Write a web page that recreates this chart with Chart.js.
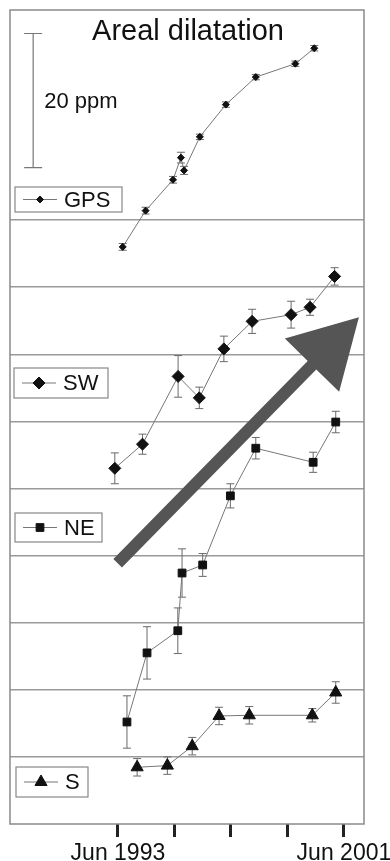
<!DOCTYPE html>
<html>
<head>
<meta charset="utf-8">
<script src="https://cdn.jsdelivr.net/npm/chart.js@4.4.0/dist/chart.umd.min.js"></script>
<style>
  html, body { margin: 0; padding: 0; background: #fff; }
  #wrap { width: 390px; height: 861px; }
</style>
</head>
<body>
<div id="wrap"><canvas id="dilChart"></canvas></div>
<script>
// decimal years / ppm (each series shifted vertically, as in the figure)
const gpsYears = [1993.67, 1994.48, 1995.45, 1995.73, 1995.84, 1996.40, 1997.32, 1998.38, 1999.78, 2000.45];
const gpsValues = [86.0, 91.4, 96.0, 99.3, 97.4, 102.4, 107.2, 111.3, 113.3, 115.6];
const gpsErrors = [0.5, 0.5, 0.5, 0.8, 0.6, 0.4, 0.4, 0.4, 0.4, 0.4];

const swYears = [1993.39, 1994.37, 1995.63, 1996.38, 1997.25, 1998.25, 1999.63, 2000.30, 2001.17];
const swValues = [53.0, 56.6, 66.7, 63.5, 70.8, 74.9, 75.9, 77.0, 81.6];
const swErrors = [2.3, 1.5, 3.1, 1.6, 1.9, 1.8, 2.0, 1.2, 1.3];

const neYears = [1993.82, 1994.53, 1995.62, 1995.77, 1996.50, 1997.48, 1998.38, 2000.41, 2001.21];
const neValues = [15.2, 25.5, 28.8, 37.4, 38.6, 48.9, 56.0, 53.9, 59.9];
const neErrors = [3.9, 3.9, 3.4, 3.6, 1.7, 1.8, 1.6, 1.5, 1.6];

const sYears = [1994.18, 1995.25, 1996.13, 1997.08, 1998.15, 2000.38, 2001.21];
const sValues = [8.45, 8.7, 11.6, 16.1, 16.2, 16.2, 19.6];
const sErrors = [1.3, 1.3, 1.3, 1.3, 1.3, 1.0, 1.6];

const tickYears = [1993.5, 1995.5, 1997.5, 1999.5, 2001.5];
const tickLabels = ['Jun 1993', '', '', '', 'Jun 2001'];

const xMin = 1989.68, xMax = 2002.21;
const yMin = 0, yMax = 121.3;

// 20 ppm scale bar and trend arrow, in data units
const scaleBar = { year: 1990.5, from: 97.8, to: 117.8, label: '20 ppm' };
const trendArrow = { fromYear: 1993.49, fromValue: 38.85, toYear: 2002.03, toValue: 75.5 };

const FONT = "'Liberation Sans', Arial, sans-serif";

function pts(xs, ys) {
  return xs.map((x, i) => ({ x: x, y: ys[i] }));
}

const seriesInfo = [
  { label: 'GPS', years: gpsYears, values: gpsValues, errors: gpsErrors, style: 'rectRot', radius: 3.5 },
  { label: 'SW', years: swYears, values: swValues, errors: swErrors, style: 'rectRot', radius: 6 },
  { label: 'NE', years: neYears, values: neValues, errors: neErrors, style: 'rect', radius: 5.5 },
  { label: 'S', years: sYears, values: sValues, errors: sErrors, style: 'triangle', radius: 7 }
];

// legend boxes (pixels from chart area corner)
const legendBoxes = [
  { x: 5, y: 177, w: 107, h: 25 },
  { x: 4, y: 358, w: 94, h: 30 },
  { x: 5, y: 503, w: 87, h: 29 },
  { x: 6, y: 757, w: 72, h: 30 }
];

const errorBars = {
  id: 'errorBars',
  beforeDatasetsDraw(chart) {
    const ctx = chart.ctx;
    const x = chart.scales.x, y = chart.scales.y;
    ctx.save();
    ctx.strokeStyle = '#6a6a6a';
    ctx.lineWidth = 1;
    seriesInfo.forEach(s => {
      s.years.forEach((yr, i) => {
        const px = x.getPixelForValue(yr);
        const top = y.getPixelForValue(s.values[i] + s.errors[i]);
        const bot = y.getPixelForValue(s.values[i] - s.errors[i]);
        ctx.beginPath();
        ctx.moveTo(px, top); ctx.lineTo(px, bot);
        ctx.moveTo(px - 4, top); ctx.lineTo(px + 4, top);
        ctx.moveTo(px - 4, bot); ctx.lineTo(px + 4, bot);
        ctx.stroke();
      });
    });
    ctx.restore();
  }
};

const decorations = {
  id: 'decorations',
  beforeDatasetsDraw(chart) {
    const ctx = chart.ctx, a = chart.chartArea;
    const x = chart.scales.x, y = chart.scales.y;
    ctx.save();
    // frame
    ctx.strokeStyle = '#8a8a8a';
    ctx.lineWidth = 1.5;
    ctx.strokeRect(a.left, a.top, a.right - a.left, a.bottom - a.top);

    // title
    ctx.fillStyle = '#111';
    ctx.font = '29px ' + FONT;
    ctx.textAlign = 'center';
    ctx.textBaseline = 'middle';
    ctx.fillText('Areal dilatation', a.left + 178, a.top + 22);

    // scale bar
    const bx = x.getPixelForValue(scaleBar.year);
    const b1 = y.getPixelForValue(scaleBar.from), b2 = y.getPixelForValue(scaleBar.to);
    ctx.strokeStyle = '#777';
    ctx.lineWidth = 1.2;
    ctx.beginPath();
    ctx.moveTo(bx, b1); ctx.lineTo(bx, b2);
    ctx.moveTo(bx - 9, b1); ctx.lineTo(bx + 9, b1);
    ctx.moveTo(bx - 9, b2); ctx.lineTo(bx + 9, b2);
    ctx.stroke();
    ctx.font = '22px ' + FONT;
    ctx.textAlign = 'left';
    ctx.fillText(scaleBar.label, bx + 11, (b1 + b2) / 2 + 1);

    // legend boxes
    seriesInfo.forEach((s, i) => {
      const lb = legendBoxes[i];
      const lx = a.left + lb.x, ly = a.top + lb.y;
      ctx.fillStyle = '#fff';
      ctx.fillRect(lx, ly, lb.w, lb.h);
      ctx.strokeStyle = '#888';
      ctx.lineWidth = 1.2;
      ctx.strokeRect(lx, ly, lb.w, lb.h);
      const cy = ly + lb.h / 2;
      ctx.strokeStyle = '#777';
      ctx.lineWidth = 1;
      ctx.beginPath();
      ctx.moveTo(lx + 8, cy); ctx.lineTo(lx + 42, cy);
      ctx.stroke();
      ctx.fillStyle = '#111';
      ctx.strokeStyle = '#111';
      Chart.helpers.drawPoint(ctx, { pointStyle: s.style, radius: s.radius, rotation: 0, borderWidth: 1 }, lx + 25, cy);
      ctx.fillStyle = '#111';
      ctx.font = '22px ' + FONT;
      ctx.textAlign = 'left';
      ctx.textBaseline = 'middle';
      ctx.fillText(s.label, lx + 49, cy + 1);
    });
    ctx.restore();
  },
  afterDatasetsDraw(chart) {
    const ctx = chart.ctx;
    const x = chart.scales.x, y = chart.scales.y;
    const x0 = x.getPixelForValue(trendArrow.fromYear), y0 = y.getPixelForValue(trendArrow.fromValue);
    const x1 = x.getPixelForValue(trendArrow.toYear), y1 = y.getPixelForValue(trendArrow.toValue);
    const len = Math.hypot(x1 - x0, y1 - y0);
    const ux = (x1 - x0) / len, uy = (y1 - y0) / len;
    const nx = -uy, ny = ux;
    const headLen = 67, headHalf = 38, shaftHalf = 6;
    const bx = x1 - ux * headLen, by = y1 - uy * headLen;
    ctx.save();
    ctx.fillStyle = '#555';
    ctx.beginPath();
    ctx.moveTo(x0 + nx * shaftHalf, y0 + ny * shaftHalf);
    ctx.lineTo(bx + nx * shaftHalf, by + ny * shaftHalf);
    ctx.lineTo(bx + nx * headHalf, by + ny * headHalf);
    ctx.lineTo(x1, y1);
    ctx.lineTo(bx - nx * headHalf, by - ny * headHalf);
    ctx.lineTo(bx - nx * shaftHalf, by - ny * shaftHalf);
    ctx.lineTo(x0 - nx * shaftHalf, y0 - ny * shaftHalf);
    ctx.closePath();
    ctx.fill();
    ctx.restore();
  }
};

new Chart(document.getElementById('dilChart'), {
  type: 'line',
  data: {
    datasets: seriesInfo.map(s => ({
      label: s.label,
      data: pts(s.years, s.values),
      borderColor: '#777',
      borderWidth: 1,
      pointStyle: s.style,
      pointRadius: s.radius,
      pointBackgroundColor: '#111',
      pointBorderColor: '#111',
      pointBorderWidth: 1,
      tension: 0,
      fill: false
    }))
  },
  options: {
    responsive: true,
    maintainAspectRatio: false,
    animation: false,
    layout: { padding: { left: 10, right: 26, top: 10, bottom: 0 } },
    plugins: { legend: { display: false }, tooltip: { enabled: false } },
    scales: {
      x: {
        type: 'linear',
        min: xMin,
        max: xMax,
        afterBuildTicks: s => { s.ticks = tickYears.map(v => ({ value: v })); },
        afterFit: s => { s.height = 37; s.paddingLeft = 0; s.paddingRight = 0; },
        border: { display: false },
        grid: { drawOnChartArea: false, drawTicks: true, tickLength: 13, tickWidth: 3, tickColor: '#222' },
        ticks: {
          padding: 3,
          autoSkip: false,
          maxRotation: 0,
          color: '#111',
          font: { size: 23, family: FONT },
          callback: (v, i) => tickLabels[i]
        }
      },
      y: {
        type: 'linear',
        min: yMin,
        max: yMax,
        afterFit: s => { s.width = 0; },
        border: { display: false },
        grid: {
          drawTicks: false,
          lineWidth: 1.5,
          color: c => (c.tick && c.tick.value >= 10 && c.tick.value <= 90) ? '#9a9a9a' : 'rgba(0,0,0,0)'
        },
        ticks: { display: false, stepSize: 10 }
      }
    }
  },
  plugins: [errorBars, decorations]
});
</script>
</body>
</html>
